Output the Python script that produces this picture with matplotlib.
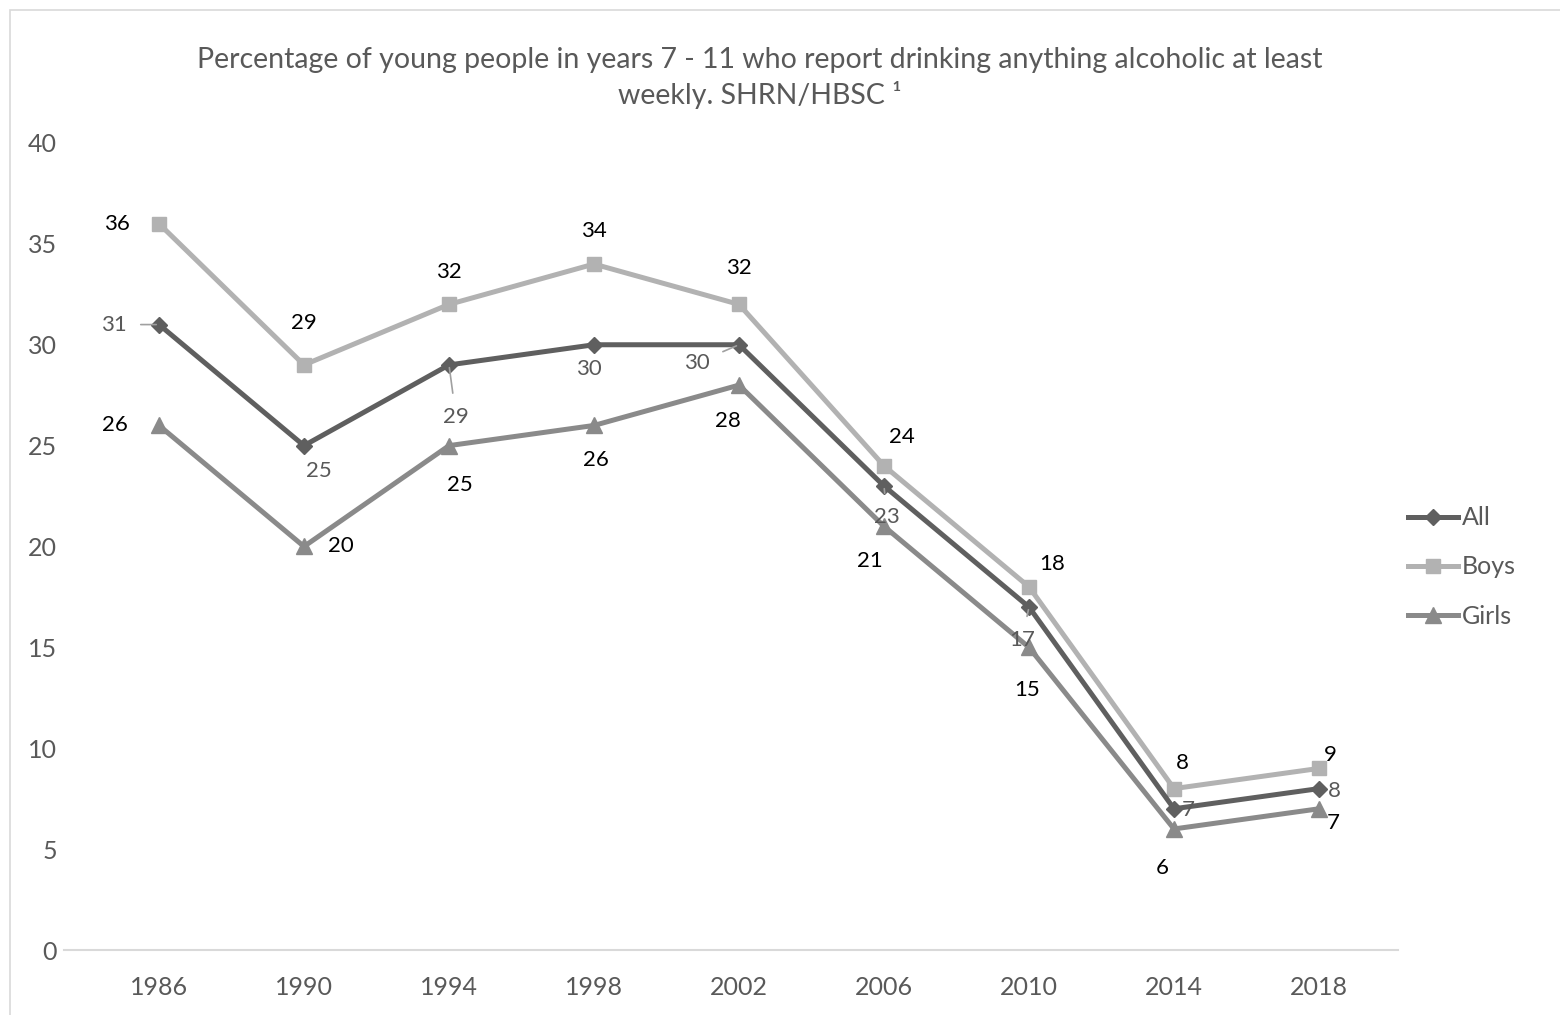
import matplotlib
matplotlib.use("Agg")
from matplotlib import pyplot as plt
from matplotlib.patches import Rectangle

plt.rcParams['font.family'] = ['Lato', 'DejaVu Sans']

years = ["1986", "1990", "1994", "1998", "2002", "2006", "2010", "2014", "2018"]
all_vals = [31, 25, 29, 30, 30, 23, 17, 7, 8]
boys_vals = [36, 29, 32, 34, 32, 24, 18, 8, 9]
girls_vals = [26, 20, 25, 26, 28, 21, 15, 6, 7]

# label offsets in pixels (dx, dy) from the point, screen y up
boys_off = [(-42, 0), (0, 42), (0, 32), (0, 33), (0, 36), (18, 29), (23, 23), (8, 26), (11, 13)]
all_off = [(-45, 0), (15, -25), (7, -52), (-5, -24), (-42, -18), (3, -31), (-7, -33), (14, -1), (15, -2)]
girls_off = [(-44, 0), (37, 0), (11, -39), (2, -35), (-11, -36), (-14, -35), (-2, -43), (-12, -39), (14, -14)]
all_leader = [True, False, True, False, True, True, True, False, False]

fig = plt.figure(figsize=(15.6, 10.15), dpi=100)
ax = fig.add_axes([64 / 1560, 65 / 1015, (1398 - 64) / 1560, (950 - 143) / 1015])

x = list(range(len(years)))
c_all, c_boys, c_girls = "#5f5f5f", "#b2b2b2", "#8a8a8a"
ax.plot(x, all_vals, color=c_all, lw=3.6, marker="D", ms=8.5, label="All", zorder=4)
ax.plot(x, boys_vals, color=c_boys, lw=3.6, marker="s", ms=9.5, label="Boys", zorder=3)
ax.plot(x, girls_vals, color=c_girls, lw=3.6, marker="^", ms=11, label="Girls", zorder=3)

px = 0.72  # pixels -> points
for i in x:
    dx, dy = boys_off[i]
    ax.annotate(str(boys_vals[i]), (i, boys_vals[i]), xytext=(dx * px, dy * px),
                textcoords="offset points", ha="center", va="center", fontsize=16, color="black")
    dx, dy = girls_off[i]
    ax.annotate(str(girls_vals[i]), (i, girls_vals[i]), xytext=(dx * px, dy * px),
                textcoords="offset points", ha="center", va="center", fontsize=16, color="black")
    dx, dy = all_off[i]
    arrow = dict(arrowstyle="-", color="#a0a0a0", lw=1.2, shrinkA=8, shrinkB=2) if all_leader[i] else None
    ax.annotate(str(all_vals[i]), (i, all_vals[i]), xytext=(dx * px, dy * px),
                textcoords="offset points", ha="center", va="center", fontsize=16, color="#595959",
                arrowprops=arrow, zorder=5)

ax.set_xlim((64 - 159) / 145, (1398 - 159) / 145)
ax.set_ylim(0, 40)
ax.set_yticks(range(0, 41, 5))
ax.set_xticks(x)
ax.set_xticklabels(years)
ax.tick_params(axis="both", length=0, labelsize=18, labelcolor="#595959")
ax.tick_params(axis="x", pad=19)
ax.tick_params(axis="y", pad=5)
for s in ["top", "right", "left"]:
    ax.spines[s].set_visible(False)
ax.spines["bottom"].set_color("#d9d9d9")
ax.spines["bottom"].set_linewidth(1.5)

ax.legend(loc="center left", bbox_to_anchor=(1.0, (950 - 567) / 807), frameon=False, fontsize=18,
          labelcolor="#595959", handlelength=2.0, handletextpad=0.15, labelspacing=1.05,
          borderaxespad=0.0)

fig.text(0.487, 1 - 60 / 1015, "Percentage of young people in years 7 - 11 who report drinking anything alcoholic at least",
         ha="center", va="center", fontsize=20.5, color="#595959")
fig.text(0.487, 1 - 95 / 1015, "weekly. SHRN/HBSC ¹",
         ha="center", va="center", fontsize=20.5, color="#595959")

fig.patches.append(Rectangle((10 / 1560, -0.01), 1.0, 1 - 10 / 1015 + 0.01, transform=fig.transFigure,
                             fill=False, edgecolor="#d9d9d9", lw=1.2))

fig.savefig("out.png", dpi=100)
